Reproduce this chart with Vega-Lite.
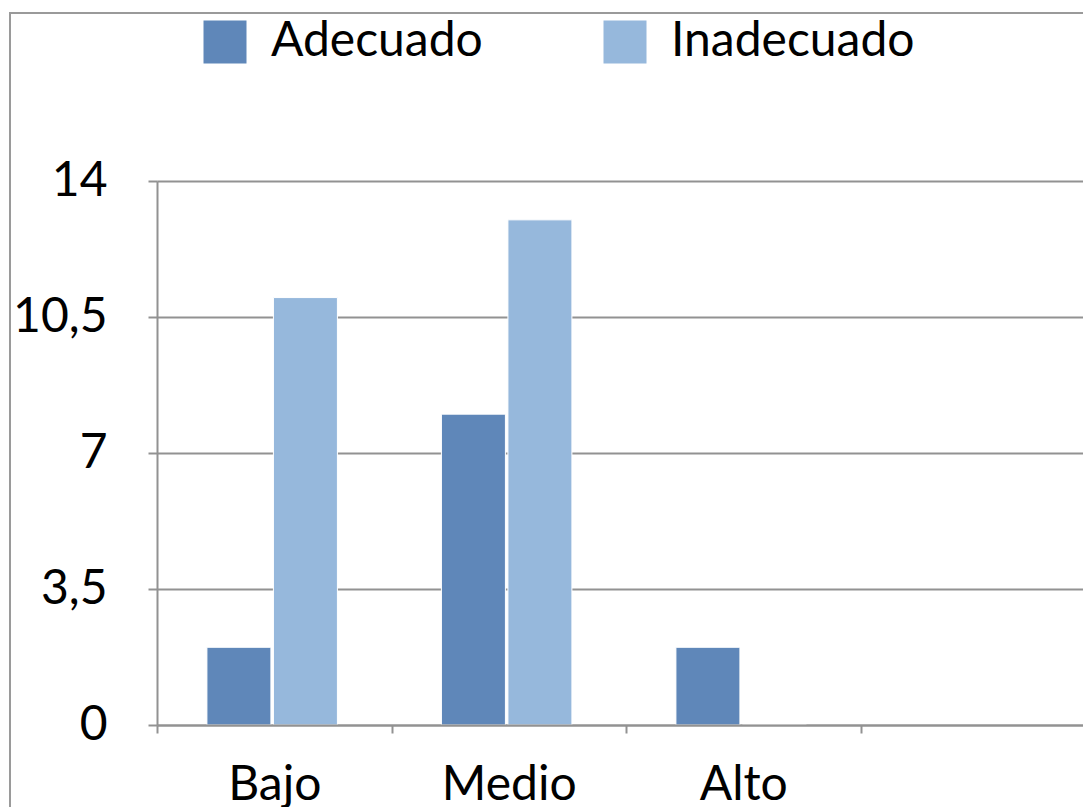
{
  "$schema": "https://vega.github.io/schema/vega-lite/v6.json",
  "autosize": "none",
  "padding": {"left": 10, "top": 13, "right": -20, "bottom": -20},
  "width": 1093,
  "height": 814,
  "background": "white",
  "config": {
    "font": "Lato",
    "view": {"stroke": "#9a9a9a", "strokeWidth": 2}
  },
  "data": {
    "values": [
      {"nivel": "Bajo", "categoria": "Adecuado", "valor": 2},
      {"nivel": "Bajo", "categoria": "Inadecuado", "valor": 11},
      {"nivel": "Medio", "categoria": "Adecuado", "valor": 8},
      {"nivel": "Medio", "categoria": "Inadecuado", "valor": 13},
      {"nivel": "Alto", "categoria": "Adecuado", "valor": 2},
      {"nivel": "Alto", "categoria": "Inadecuado", "valor": 0}
    ]
  },
  "mark": {"type": "bar", "stroke": "white", "strokeWidth": 1},
  "encoding": {
    "x": {
      "field": "nivel",
      "type": "nominal",
      "sort": null,
      "scale": {
        "domain": ["Bajo", "Medio", "Alto", ""],
        "range": [147, 1085],
        "paddingInner": 0,
        "paddingOuter": 0
      },
      "axis": {
        "title": null,
        "orient": "bottom",
        "offset": -102,
        "zindex": 1,
        "labelAngle": 0,
        "tickBand": "extent",
        "tickSize": 8,
        "tickWidth": 2,
        "tickColor": "#929292",
        "domainColor": "#929292",
        "domainWidth": 2,
        "grid": false,
        "labelFontSize": 48,
        "labelColor": "black",
        "labelPadding": 28
      }
    },
    "y": {
      "field": "valor",
      "type": "quantitative",
      "scale": {"domain": [0, 14], "range": [712, 168], "nice": false},
      "axis": {
        "title": null,
        "offset": -147,
        "values": [0, 3.5, 7, 10.5, 14],
        "labelExpr": "replace(toString(datum.value), '.', ',')",
        "grid": true,
        "gridColor": "#929292",
        "gridWidth": 2,
        "domainColor": "#929292",
        "domainWidth": 2,
        "tickColor": "#929292",
        "tickWidth": 2,
        "tickSize": 9,
        "labelFontSize": 48,
        "labelColor": "black",
        "labelPadding": 41
      }
    },
    "xOffset": {
      "field": "categoria",
      "type": "nominal",
      "sort": ["Adecuado", "Inadecuado"],
      "scale": {"paddingInner": 0.0376, "paddingOuter": 0.782, "align": 0.48}
    },
    "color": {
      "field": "categoria",
      "type": "nominal",
      "scale": {"domain": ["Adecuado", "Inadecuado"], "range": ["#5f87b9", "#96b8dc"]},
      "legend": {
        "title": null,
        "orient": "none",
        "legendX": 191,
        "legendY": 5,
        "direction": "horizontal",
        "symbolType": "square",
        "symbolSize": 1849,
        "symbolStrokeWidth": 0,
        "labelFontSize": 48,
        "labelLimit": 0,
        "labelOffset": 22,
        "columnPadding": 118,
        "labelColor": "black"
      }
    }
  }
}
